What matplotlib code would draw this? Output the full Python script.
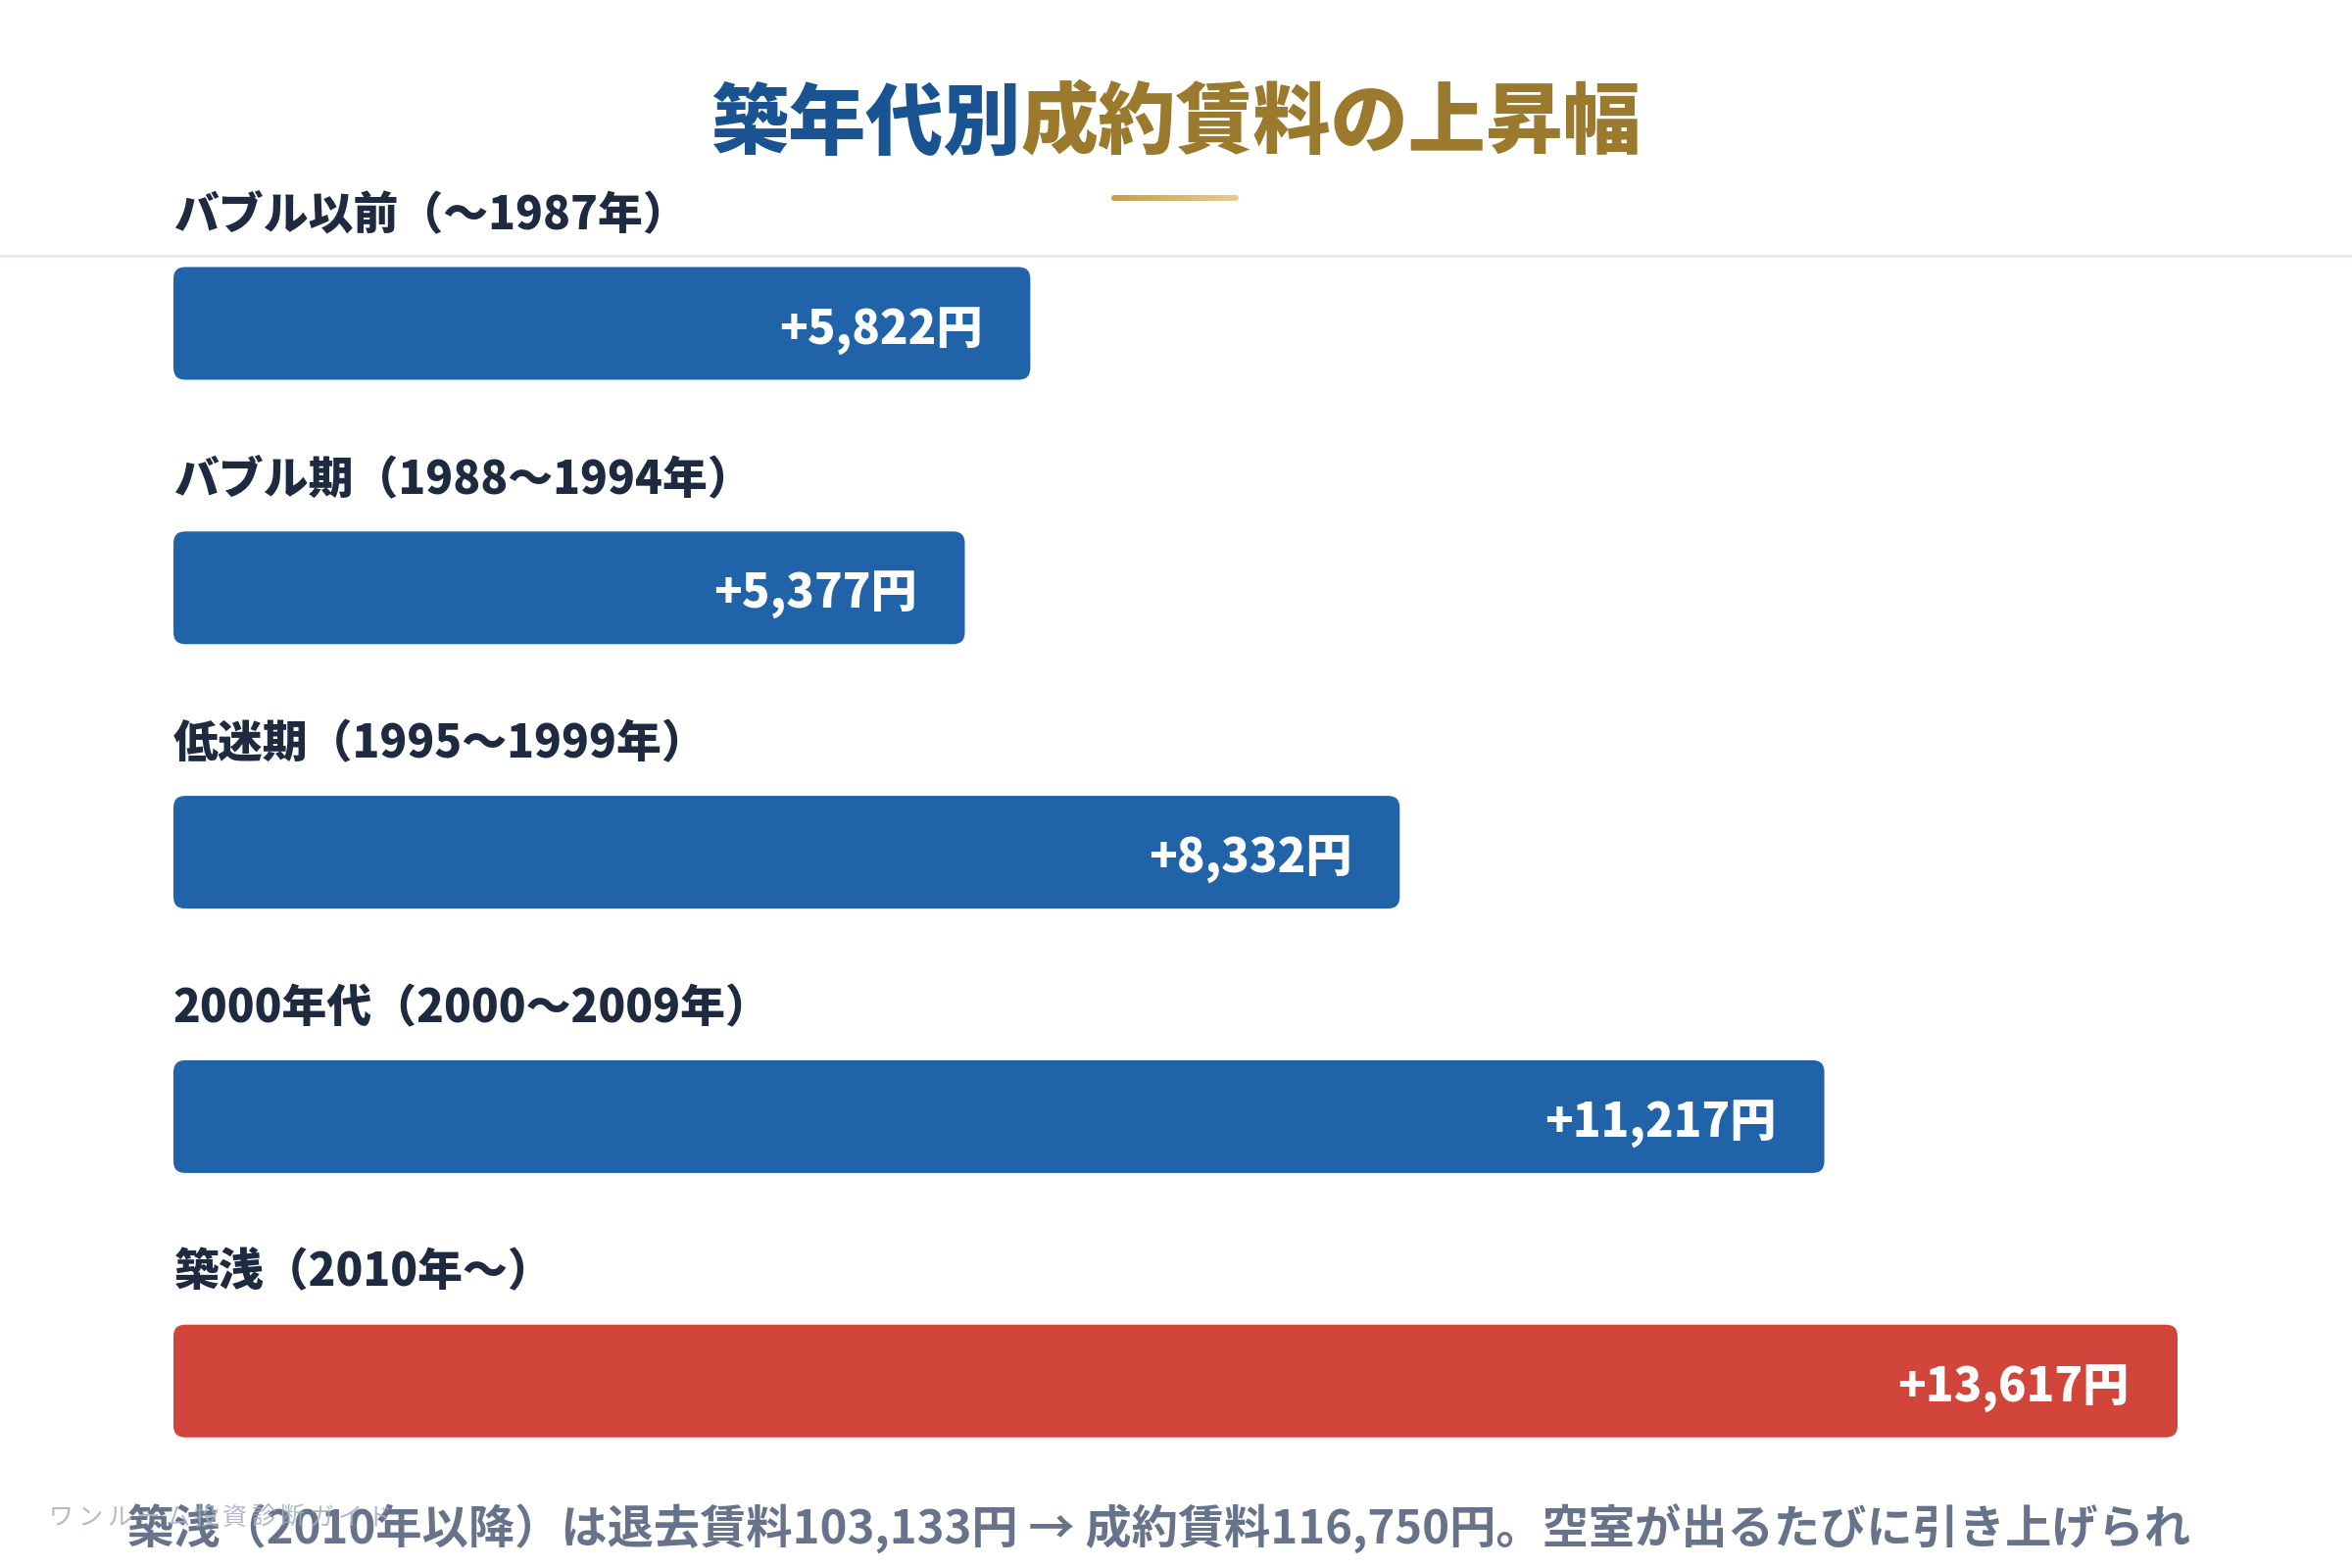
import matplotlib
matplotlib.use("Agg")
from matplotlib import pyplot as plt
from matplotlib.patches import FancyBboxPatch
from matplotlib.colors import LinearSegmentedColormap
import numpy as np

plt.rcParams['font.family'] = ['Noto Sans CJK JP', 'DejaVu Sans']

# data
categories = ["バブル以前（〜1987年）", "バブル期（1988〜1994年）", "低迷期（1995〜1999年）",
              "2000年代（2000〜2009年）", "築浅（2010年〜）"]
increase_yen = [5822, 5377, 8332, 11217, 13617]
bar_colors = ["#2063a8", "#2063a8", "#2063a8", "#2063a8", "#d1453b"]
title_main = "築年代別"
title_accent = "成約賃料の上昇幅"
note_text = "築浅（2010年以降）は退去賃料103,133円 → 成約賃料116,750円。空室が出るたびに引き上げられ"
watermark = "ワンルーム投資診断ガイド"

W, H = 2400, 1600
fig = plt.figure(figsize=(24, 16), dpi=100)
fig.patch.set_facecolor("white")

# background axes in pixel units
ax = fig.add_axes([0, 0, 1, 1])
ax.set_xlim(0, W)
ax.set_ylim(H, 0)
ax.axis("off")

# title in two colours, centred
renderer = fig.canvas.get_renderer()
t1 = ax.text(0, 127, title_main, fontsize=57, fontweight="heavy", color="#1a5391",
             va="center", ha="left")
t2 = ax.text(0, 127, title_accent, fontsize=57, fontweight="heavy", color="#9b7a2d",
             va="center", ha="left")
w1 = t1.get_window_extent(renderer).width
w2 = t2.get_window_extent(renderer).width
x0 = W / 2 - (w1 + w2) / 2
t1.set_x(x0)
t2.set_x(x0 + w1)

# gold underline with gradient
gold = LinearSegmentedColormap.from_list("gold", ["#c6a048", "#e6cd8f"])
ul = FancyBboxPatch((1134, 199), 130, 6, boxstyle="round,pad=0,rounding_size=3",
                    facecolor="none", edgecolor="none")
ax.add_patch(ul)
im = ax.imshow(np.linspace(0, 1, 100).reshape(1, -1), cmap=gold, aspect="auto",
               extent=(1134, 1264, 205, 199), zorder=3)
im.set_clip_path(ul)

# divider line
ax.plot([0, W], [261, 261], color="#e3e7ed", lw=2, solid_capstyle="butt")

# bars axes: x in yen
left_px, right_px = 177, 2222
bax = fig.add_axes([left_px / W, 0, (right_px - left_px) / W, 1])
bax.set_xlim(0, max(increase_yen))
bax.set_ylim(H, 0)
bax.axis("off")
bax.patch.set_alpha(0)

x_per_px = max(increase_yen) / (right_px - left_px)
bar_h = 115
for i, (cat, val, col) in enumerate(zip(categories, increase_yen, bar_colors)):
    yc = 330 + i * 269.8
    box = FancyBboxPatch((0, yc - bar_h / 2), val, bar_h,
                         boxstyle="round,pad=0,rounding_size=%f" % (12 * x_per_px),
                         mutation_aspect=1 / x_per_px,
                         facecolor=col, edgecolor="none")
    bax.add_patch(box)
    bax.text(val - 49 * x_per_px, yc + 8, "+{:,}円".format(val), color="white",
             fontsize=34, fontweight="heavy", ha="right", va="center")
    bax.text(0, yc - 110, cat, color="#1d2a3f", fontsize=33, fontweight="heavy",
             ha="left", va="center")

# footnote and watermark (watermark sits on top)
wax = fig.add_axes([0, 0, 1, 1])
wax.set_xlim(0, W)
wax.set_ylim(H, 0)
wax.axis("off")
wax.patch.set_alpha(0)
wax.text(130, 1560, note_text, color="#66738a", fontsize=34, fontweight="bold",
         ha="left", va="center", zorder=2)
for i, ch in enumerate(watermark):
    wax.text(50 + i * 29.5, 1549, ch, color="#a3adbf", fontsize=18, ha="left",
             va="center", alpha=0.85, zorder=5)

fig.savefig("out.png", dpi=100, facecolor="white")
